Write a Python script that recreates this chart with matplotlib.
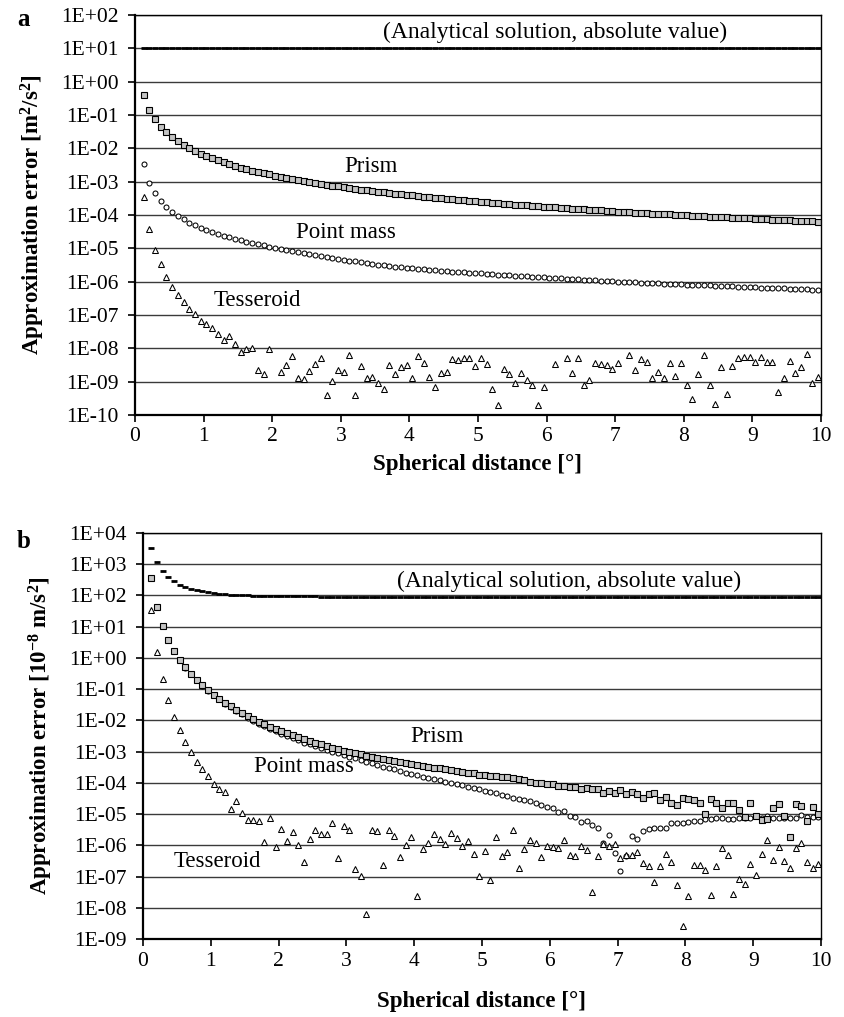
import numpy as np
import matplotlib
matplotlib.use("Agg")
import matplotlib.pyplot as plt
from matplotlib.ticker import FixedLocator, FuncFormatter

plt.rcParams['font.family'] = ['Liberation Serif', 'DejaVu Serif']
plt.rcParams['mathtext.fontset'] = 'custom'
plt.rcParams['mathtext.rm'] = 'Liberation Serif'
plt.rcParams['mathtext.bf'] = 'Liberation Serif:bold'
plt.rcParams['mathtext.it'] = 'Liberation Serif:italic'
plt.rcParams['mathtext.default'] = 'bf'

# Sample positions: spherical distance in degrees (5' spacing)
dist = np.arange(1, 120) / 12 + 1 / 24

# ---------------- Panel a (potential), log10 of values [m^2/s^2] ----------------
a_analytic_log = [1.02] * 119

a_prism_log = [
    -0.39, -0.84, -1.13, -1.35, -1.52, -1.67, -1.79, -1.90, -2.00, -2.08,
    -2.16, -2.24, -2.30, -2.36, -2.42, -2.48, -2.53, -2.58, -2.62, -2.67,
    -2.71, -2.75, -2.78, -2.82, -2.86, -2.89, -2.92, -2.95, -2.98, -3.01,
    -3.04, -3.07, -3.09, -3.12, -3.14, -3.17, -3.19, -3.21, -3.24, -3.26,
    -3.28, -3.30, -3.32, -3.34, -3.36, -3.38, -3.40, -3.41, -3.43, -3.45,
    -3.47, -3.48, -3.50, -3.51, -3.53, -3.55, -3.56, -3.58, -3.59, -3.61,
    -3.62, -3.63, -3.65, -3.66, -3.67, -3.69, -3.70, -3.71, -3.73, -3.74,
    -3.75, -3.76, -3.77, -3.79, -3.80, -3.81, -3.82, -3.83, -3.84, -3.85,
    -3.86, -3.88, -3.89, -3.90, -3.91, -3.92, -3.93, -3.94, -3.95, -3.96,
    -3.97, -3.97, -3.98, -3.99, -4.00, -4.01, -4.02, -4.03, -4.04, -4.05,
    -4.06, -4.06, -4.07, -4.08, -4.09, -4.10, -4.10, -4.11, -4.12, -4.13,
    -4.14, -4.14, -4.15, -4.16, -4.17, -4.17, -4.18, -4.19, -4.20,
]

a_pointmass_log = [
    -2.47, -3.03, -3.35, -3.58, -3.75, -3.90, -4.02, -4.13, -4.23, -4.31,
    -4.38, -4.45, -4.51, -4.57, -4.62, -4.67, -4.72, -4.76, -4.80, -4.84,
    -4.88, -4.91, -4.95, -4.98, -5.01, -5.045, -5.08, -5.11, -5.14, -5.17,
    -5.20, -5.23, -5.26, -5.29, -5.32, -5.345, -5.37, -5.395, -5.42, -5.45,
    -5.47, -5.49, -5.51, -5.53, -5.55, -5.565, -5.58, -5.60, -5.615, -5.63,
    -5.645, -5.66, -5.675, -5.69, -5.70, -5.71, -5.72, -5.735, -5.745, -5.755,
    -5.77, -5.78, -5.79, -5.80, -5.81, -5.82, -5.83, -5.84, -5.85, -5.86,
    -5.87, -5.88, -5.89, -5.90, -5.91, -5.92, -5.93, -5.94, -5.95, -5.96,
    -5.97, -5.98, -5.99, -6.00, -6.01, -6.01, -6.02, -6.03, -6.04, -6.04,
    -6.05, -6.06, -6.06, -6.07, -6.08, -6.09, -6.09, -6.10, -6.11, -6.11,
    -6.12, -6.13, -6.13, -6.14, -6.15, -6.16, -6.16, -6.17, -6.18, -6.18,
    -6.19, -6.20, -6.20, -6.21, -6.22, -6.22, -6.23, -6.24, -6.25,
]

nan = float('nan')
a_tesseroid_log = [
    -3.45, -4.42, -5.05, -5.48, -5.85, -6.15, -6.40, -6.60, -6.82, -6.98,
    -7.17, -7.28, -7.40, -7.57, -7.75, -7.62, -7.88, -8.12, -8.03, -8.00,
    -8.65, -8.78, -8.02, nan, -8.72, -8.50, -8.24, -8.90, -8.92, -8.68,
    -8.46, -8.30, -9.40, -8.97, -8.64, -8.70, -8.20, -9.40, -8.52, -8.90,
    -8.86, -9.05, -9.22, -8.50, -8.78, -8.57, -8.50, -8.90, -8.23, -8.44,
    -8.86, -9.16, -8.75, -8.70, -8.32, -8.36, -8.30, -8.30, -8.52, -8.28,
    -8.46, -9.22, -9.70, -8.63, -8.78, -9.05, -8.75, -8.96, -9.10, -9.70,
    -9.16, nan, -8.48, nan, -8.30, -8.75, -8.28, -9.10, -8.96, -8.43,
    -8.46, -8.50, -8.62, -8.43, nan, -8.20, -8.64, -8.32, -8.42, -8.90,
    -8.71, -8.88, -8.45, -8.82, -8.43, -9.10, -9.52, -8.77, -8.20, -9.10,
    -9.68, -8.57, -9.38, -8.52, -8.30, -8.27, -8.27, -8.40, -8.27, -8.40,
    -8.40, -9.30, -8.88, -8.37, -8.75, -8.57, -8.18, -9.05, -8.85,
]

# ---------------- Panel b (gravity), log10 of values [1e-8 m/s^2] ----------------
b_analytic_log = [
    3.51, 3.07, 2.78, 2.60, 2.46, 2.34, 2.27, 2.22, 2.17, 2.13,
    2.10, 2.08, 2.06, 2.04, 2.03, 2.02, 2.01, 2.00, 1.99, 1.99,
    1.98, 1.97, 1.97, 1.97, 1.97, 1.97, 1.97, 1.97, 1.97, 1.97,
    1.96, 1.96, 1.96, 1.96, 1.96, 1.96, 1.96, 1.96, 1.96, 1.96,
    1.96, 1.96, 1.96, 1.96, 1.96, 1.96, 1.96, 1.96, 1.96, 1.96,
    1.96, 1.96, 1.96, 1.96, 1.96, 1.96, 1.96, 1.96, 1.96, 1.96,
    1.95, 1.95, 1.95, 1.95, 1.95, 1.95, 1.95, 1.95, 1.95, 1.95,
    1.95, 1.95, 1.95, 1.95, 1.95, 1.95, 1.95, 1.95, 1.95, 1.95,
    1.95, 1.95, 1.95, 1.95, 1.95, 1.95, 1.95, 1.95, 1.95, 1.95,
    1.95, 1.95, 1.95, 1.95, 1.95, 1.95, 1.95, 1.95, 1.95, 1.95,
    1.95, 1.95, 1.95, 1.95, 1.95, 1.95, 1.95, 1.95, 1.95, 1.95,
    1.95, 1.95, 1.95, 1.95, 1.95, 1.95, 1.95, 1.95, 1.95,
]

b_prism_log = [
    2.56, 1.64, 1.02, 0.58, 0.23, -0.06, -0.30, -0.52, -0.70, -0.88,
    -1.04, -1.18, -1.31, -1.44, -1.55, -1.66, -1.76, -1.85, -1.95, -2.04,
    -2.12, -2.20, -2.27, -2.33, -2.41, -2.47, -2.54, -2.60, -2.65, -2.71,
    -2.77, -2.82, -2.87, -2.91, -2.97, -3.01, -3.05, -3.09, -3.14, -3.17,
    -3.21, -3.24, -3.27, -3.31, -3.34, -3.37, -3.40, -3.43, -3.46, -3.49,
    -3.51, -3.54, -3.56, -3.59, -3.62, -3.64, -3.68, -3.70, -3.74, -3.76,
    -3.77, -3.79, -3.80, -3.80, -3.86, -3.89, -3.92, -3.96, -4.02, -4.02,
    -4.05, -4.04, -4.09, -4.10, -4.12, -4.12, -4.20, -4.18, -4.19, -4.19,
    -4.31, -4.27, -4.31, -4.23, -4.37, -4.30, -4.37, -4.48, -4.36, -4.34,
    -4.55, -4.45, -4.63, -4.71, -4.48, -4.52, -4.55, -4.63, -5.00, -4.53,
    -4.63, -4.80, -4.66, -4.66, -4.87, -5.08, -4.64, -5.06, -5.19, -5.17,
    -4.80, -4.68, -5.06, -5.73, -4.68, -4.74, -5.23, -4.77, -5.01,
]

b_pointmass_log = [
    2.56, 1.64, 1.02, 0.58, 0.23, -0.07, -0.31, -0.53, -0.71, -0.89,
    -1.05, -1.19, -1.33, -1.46, -1.58, -1.69, -1.80, -1.91, -2.01, -2.10,
    -2.19, -2.27, -2.35, -2.43, -2.50, -2.57, -2.64, -2.71, -2.77, -2.83,
    -2.89, -2.94, -3.00, -3.05, -3.11, -3.16, -3.22, -3.27, -3.32, -3.37,
    -3.43, -3.48, -3.53, -3.57, -3.62, -3.67, -3.72, -3.76, -3.80, -3.84,
    -3.88, -3.92, -3.96, -4.00, -4.04, -4.08, -4.12, -4.17, -4.21, -4.25,
    -4.30, -4.34, -4.38, -4.42, -4.48, -4.52, -4.55, -4.59, -4.66, -4.71,
    -4.77, -4.82, -4.93, -4.89, -5.07, -5.09, -5.25, -5.21, -5.35, -5.44,
    -5.92, -5.67, -6.26, -6.83, -6.35, -5.71, -5.81, -5.53, -5.49, -5.46,
    -5.44, -5.43, -5.30, -5.28, -5.27, -5.26, -5.23, -5.23, -5.17, -5.17,
    -5.14, -5.11, -5.17, -5.15, -5.14, -5.11, -5.11, -5.07, -5.11, -5.07,
    -5.11, -5.14, -5.11, -5.11, -5.14, -5.03, -5.09, -5.09, -5.09,
]

b_tesseroid_log = [
    1.53, 0.19, -0.69, -1.35, -1.89, -2.32, -2.70, -3.02, -3.33, -3.57,
    -3.79, -4.05, -4.21, -4.30, -4.83, -4.57, -4.96, -5.20, -5.18, -5.23,
    -5.89, -5.12, -6.05, -5.48, -5.87, -5.57, -6.00, -6.54, -5.80, -5.52,
    -5.63, -5.64, -5.28, -6.41, -5.37, -5.52, -6.76, -6.99, -8.20, -5.52,
    -5.55, -6.62, -5.50, -5.69, -6.37, -5.98, -5.73, -7.61, -6.11, -5.92,
    -5.63, -5.80, -5.95, -5.62, -5.76, -6.03, -5.87, -6.27, -6.99, -6.17,
    -7.10, -5.73, -6.35, -6.22, -5.52, -6.73, -6.11, -5.82, -5.92, -6.38,
    -6.01, -6.05, -6.08, -5.84, -6.30, -6.33, -6.01, -6.16, -7.48, -6.35,
    -5.96, -6.03, -5.95, -6.41, -6.31, -6.30, -6.21, -6.56, -6.67, -7.16,
    -6.67, -6.27, -6.54, -7.26, -8.59, -7.63, -6.62, -6.62, -6.78, -7.59,
    -6.65, -6.08, -6.30, -7.56, -7.08, -7.23, -6.59, -6.94, -6.27, -5.84,
    -6.48, -6.05, -6.51, -6.74, -6.08, -5.93, -6.53, -6.74, -6.59,
]

x_ticks = list(range(0, 11))
a_ylim_exp = (-10, 2)
b_ylim_exp = (-9, 4)

W, H = 845, 1017
fig = plt.figure(figsize=(W / 100, H / 100), dpi=100)


def px_axes(l, r, t, b):
    return fig.add_axes([l / W, 1 - b / H, (r - l) / W, (b - t) / H])


ax_a = px_axes(135, 821, 15, 415)
ax_b = px_axes(143, 821, 533, 939)

sq_kw = dict(ls='none', marker='s', ms=3.7, mfc='#c4c4c4', mec='black', mew=0.8)
ci_kw = dict(ls='none', marker='o', ms=3.6, mfc='white', mec='black', mew=0.75)
tr_kw = dict(ls='none', marker='^', ms=4.0, mfc='white', mec='black', mew=0.75)
an_kw = dict(ls='none', marker='_', ms=4.2, mec='black', mew=2.0)


def fmt_exp(v, pos):
    e = int(round(np.log10(v)))
    return f"1E{e:+03d}"


def style(ax, ylim_exp, ylabel, xlabelpad):
    ax.set_yscale('log')
    ax.set_xlim(0, 10)
    ax.set_ylim(10.0 ** ylim_exp[0], 10.0 ** ylim_exp[1])
    decades = [10.0 ** e for e in range(ylim_exp[0], ylim_exp[1] + 1)]
    ax.yaxis.set_major_locator(FixedLocator(decades))
    ax.yaxis.set_minor_locator(FixedLocator([]))
    ax.yaxis.set_major_formatter(FuncFormatter(fmt_exp))
    ax.set_xticks(x_ticks)
    ax.grid(True, axis='y', color='#3a3a3a', lw=1.0)
    ax.set_axisbelow(True)
    ax.tick_params(axis='both', which='major', direction='out', length=5,
                   width=1.2, labelsize=15.5, color='black')
    ax.tick_params(axis='y', pad=7)
    ax.tick_params(axis='x', pad=4)
    for s in ('left', 'bottom'):
        ax.spines[s].set_linewidth(1.6)
    for s in ('top', 'right'):
        ax.spines[s].set_linewidth(1.0)
    ax.set_xlabel('Spherical distance [°]', fontsize=16.5, fontweight='bold',
                  labelpad=xlabelpad)
    ax.set_ylabel(ylabel, fontsize=16.5, fontweight='bold', labelpad=10)


# Panel a
ax_a.plot(dist, 10.0 ** np.array(a_analytic_log), **an_kw)
ax_a.plot(dist, 10.0 ** np.array(a_prism_log), **sq_kw)
ax_a.plot(dist, 10.0 ** np.array(a_pointmass_log), **ci_kw)
ax_a.plot(dist, 10.0 ** np.array(a_tesseroid_log), **tr_kw)
style(ax_a, a_ylim_exp, r'Approximation error [m$^{2}$/s$^{2}$]', 5.5)
ax_a.text(6.12, 10 ** 1.47, '(Analytical solution, absolute value)',
          fontsize=17, ha='center', va='center')
ax_a.text(3.44, 10 ** -2.56, 'Prism', fontsize=16.5, ha='center', va='center')
ax_a.text(3.08, 10 ** -4.54, 'Point mass', fontsize=16.5, ha='center', va='center')
ax_a.text(1.785, 10 ** -6.58, 'Tesseroid', fontsize=16.5, ha='center', va='center')

# Panel b
ax_b.plot(dist, 10.0 ** np.array(b_analytic_log), **an_kw)
ax_b.plot(dist, 10.0 ** np.array(b_pointmass_log), **ci_kw)
ax_b.plot(dist, 10.0 ** np.array(b_prism_log), **sq_kw)
ax_b.plot(dist, 10.0 ** np.array(b_tesseroid_log), **tr_kw)
style(ax_b, b_ylim_exp, r'Approximation error [10$^{-8}$ m/s$^{2}$]', 15)
ax_b.text(6.29, 10 ** 2.46, '(Analytical solution, absolute value)',
          fontsize=17, ha='center', va='center')
ax_b.text(4.33, 10 ** -2.52, 'Prism', fontsize=16.5, ha='center', va='center')
ax_b.text(2.37, 10 ** -3.48, 'Point mass', fontsize=16.5, ha='center', va='center')
ax_b.text(1.10, 10 ** -6.52, 'Tesseroid', fontsize=16.5, ha='center', va='center')

fig.text(17 / W, 1 - 20 / H, 'a', fontsize=18, fontweight='bold', ha='left', va='center')
fig.text(17 / W, 1 - 541 / H, 'b', fontsize=18, fontweight='bold', ha='left', va='center')

fig.savefig('out.png', dpi=100)
